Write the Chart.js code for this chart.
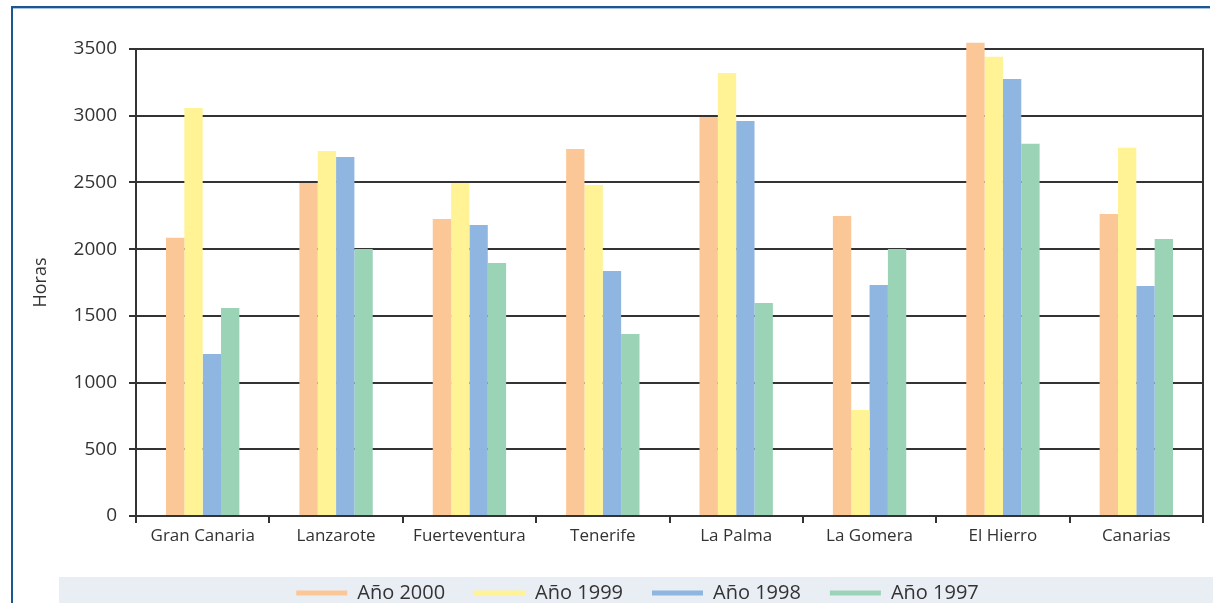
<!DOCTYPE html>
<html>
<head>
<meta charset="utf-8">
<script src="https://cdn.jsdelivr.net/npm/chart.js@4.4.1/dist/chart.umd.min.js"></script>
<style>
  html, body { margin: 0; padding: 0; background: #ffffff; overflow: hidden; width: 1213px; height: 603px; }
  #wrap { position: absolute; left: 0; top: 0; width: 1213px; height: 603px; overflow: hidden; }
  #ftop { position: absolute; left: 11px; top: 6px; width: 1199px; height: 2px; background: #1d5790; }
  #ftop2 { position: absolute; left: 13px; top: 8px; width: 1197px; height: 1px; background: #a9c3de; }
  #fleft { position: absolute; left: 11px; top: 6px; width: 2px; height: 597px; background: #1d5790; }
  #band { position: absolute; left: 59px; top: 577px; width: 1154px; height: 26px; background: #e9edf4; }
  canvas { position: absolute; left: 0; top: 0; }
</style>
</head>
<body>
<div id="wrap">
  <div id="ftop"></div>
  <div id="ftop2"></div>
  <div id="fleft"></div>
  <div id="band"></div>
  <canvas id="c" width="1213" height="603"></canvas>
</div>
<script>
// ---- data ----
const categories = ['Gran Canaria', 'Lanzarote', 'Fuerteventura', 'Tenerife', 'La Palma', 'La Gomera', 'El Hierro', 'Canarias'];
const seriesNames = ['Año 2000', 'Año 1999', 'Año 1998', 'Año 1997'];
const anio2000 = [2085, 2495, 2226, 2751, 2991, 2249, 3546, 2264];
const anio1999 = [3058, 2736, 2495, 2481, 3321, 795, 3441, 2759];
const anio1998 = [1214, 2691, 2181, 1837, 2961, 1732, 3276, 1724];
const anio1997 = [1559, 2001, 1897, 1364, 1597, 2001, 2789, 2076];
const yTicks = [0, 500, 1000, 1500, 2000, 2500, 3000, 3500];
const yTitle = 'Horas';

const seriesValues = [anio2000, anio1999, anio1998, anio1997];
const seriesColors = ['#fcc797', '#fff396', '#8eb6e0', '#9bd3b7'];

const FONT = "'Open Sans', 'DejaVu Sans', sans-serif";
const INK = '#333333';

const framePlugin = {
  id: 'framePlugin',
  afterLayout(chart) {
    const lg = chart.legend;
    if (lg) {
      lg.left = 72;
      lg.top = 554;
    }
  },
  afterDraw(chart) {
    const a = chart.chartArea, ctx = chart.ctx;
    ctx.save();
    ctx.strokeStyle = INK;
    ctx.lineWidth = 2;
    ctx.beginPath();
    ctx.moveTo(a.right, a.top - 1);
    ctx.lineTo(a.right, a.bottom + 6);
    ctx.stroke();
    ctx.restore();
  }
};

new Chart(document.getElementById('c'), {
  type: 'bar',
  data: {
    labels: categories,
    datasets: seriesNames.map((name, i) => ({
      label: name,
      data: seriesValues[i],
      backgroundColor: seriesColors[i],
      borderWidth: 0,
      barPercentage: 1.0,
      categoryPercentage: 0.55,
      clip: false
    }))
  },
  options: {
    responsive: false,
    animation: false,
    devicePixelRatio: 1,
    layout: { padding: { top: 49, right: 10, left: 0, bottom: 0 } },
    plugins: {
      legend: {
        position: 'bottom',
        maxHeight: 47,
        labels: {
          boxWidth: 51,
          boxHeight: 5,
          padding: 29,
          color: INK,
          font: { family: FONT, size: 20 }
        }
      },
      tooltip: { enabled: false }
    },
    scales: {
      x: {
        offset: true,
        grid: { display: true, offset: true, drawOnChartArea: false, drawTicks: true, tickLength: 7, color: INK, lineWidth: 2 },
        border: { display: true, color: INK, width: 2 },
        ticks: { color: INK, font: { family: FONT, size: 17 }, padding: 3, maxRotation: 0, autoSkip: false },
        afterFit(s) { s.height = 40; }
      },
      y: {
        min: 0,
        max: 3500,
        afterBuildTicks(s) { s.ticks = yTicks.map(v => ({ value: v })); },
        grid: { color: INK, lineWidth: 2, tickLength: 7, drawTicks: true },
        border: { display: true, color: INK, width: 2 },
        ticks: { color: INK, font: { family: FONT, size: 19 }, padding: 12, callback: v => String(v) },
        title: { display: true, text: yTitle, color: INK, font: { family: FONT, size: 18 }, padding: { top: 30, bottom: 0 } },
        afterFit(s) { s.width = 136; }
      }
    }
  },
  plugins: [framePlugin]
});
</script>
</body>
</html>
